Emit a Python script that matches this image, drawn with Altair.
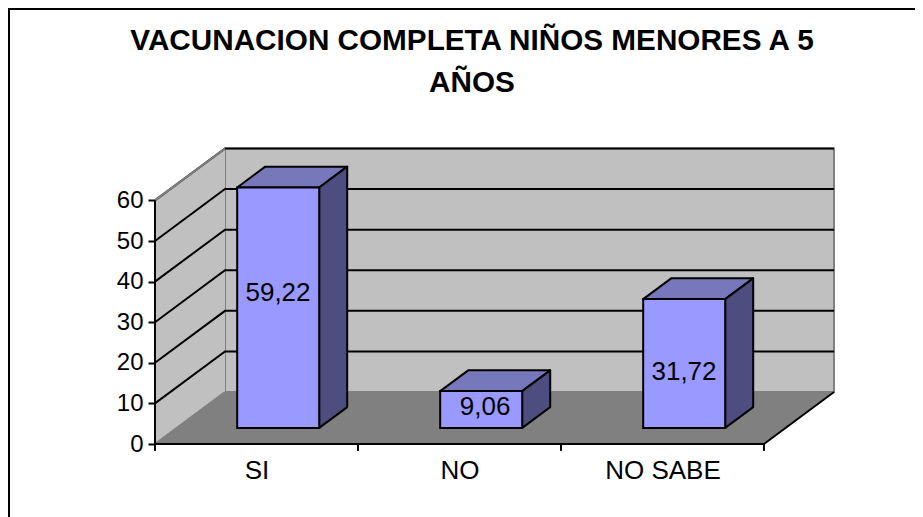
import altair as alt
import pandas as pd

CATEGORIES = ["SI", "NO", "NO SABE"]
VALUES = [59.22, 9.06, 31.72]
VALUE_LABELS = ["59,22", "9,06", "31,72"]
LABEL_X = [0.606, 1.626, 2.606]
LABEL_V = [37.2, 9.0, 17.8]
Y_TICKS = [0, 10, 20, 30, 40, 50, 60]
TITLE = ["VACUNACION COMPLETA NIÑOS MENORES A 5", "AÑOS"]

# oblique projection of the 3-D box, in scale units
DEPTH_X = 0.345
DEPTH_V = 12.8
BAR_Z0, BAR_Z1 = 0.31, 0.71
BAR_L, BAR_R = 0.298, 0.702
TOP = 60.0
N = 3

FONT = "Liberation Sans"
W, H = 907, 409
xscale = alt.Scale(domain=[-0.724, 3.744], nice=False, zero=False)
yscale = alt.Scale(domain=[-17.98, 82.76], nice=False, zero=False)

label_expr = " : ".join(f"datum.value == {i + 0.5} ? '{c}'" for i, c in enumerate(CATEGORIES)) + " : ''"
AX = alt.Axis(values=[0.5, 1.5, 2.5], labelExpr=label_expr, orient="bottom", offset=-73,
              domain=False, ticks=False, grid=False, title=None, labelAngle=0,
              labelFont=FONT, labelFontSize=26, labelColor="black", labelPadding=13)
AY = alt.Axis(values=Y_TICKS, orient="left", offset=-147, domain=False, grid=False, title=None,
              tickColor="black", tickWidth=2, tickSize=7,
              labelFont=FONT, labelFontSize=24, labelColor="black", labelPadding=5)


def X():
    return alt.X("x:Q", scale=xscale, axis=AX)


def Y():
    return alt.Y("y:Q", scale=yscale, axis=AY)


def px(c, z):
    return c + z * DEPTH_X


def py(v, z):
    return v + z * DEPTH_V


# vertical-edge faces: wall left, bar sides
def vface(c0, c1, z0, z1, v0, v1, g=0):
    return [
        {"g": g, "x": px(c0, z0), "y": py(v1, z0), "y2": py(v0, z0)},
        {"g": g, "x": px(c1, z1), "y": py(v1, z1), "y2": py(v0, z1)},
    ]


# horizontal-edge faces: floor, bar tops
def hface(c0, c1, z0, z1, v, g=0):
    return [
        {"g": g, "y": py(v, z0), "x": px(c0, z0), "x2": px(c1, z0)},
        {"g": g, "y": py(v, z1), "x": px(c0, z1), "x2": px(c1, z1)},
    ]


def vlayer(rows, **mark):
    return alt.Chart(pd.DataFrame(rows)).mark_area(orient="vertical", **mark).encode(
        x=X(), y=Y(), y2="y2:Q", detail="g:N")


def hlayer(rows, **mark):
    return alt.Chart(pd.DataFrame(rows)).mark_area(orient="horizontal", **mark).encode(
        y=Y(), x=X(), x2="x2:Q", detail="g:N")


def lines(rows, **mark):
    return alt.Chart(pd.DataFrame(rows)).mark_line(**mark).encode(
        x=X(), y=Y(), detail="g:N")


GRAY = "#C0C0C0"
DARK = "#808080"
FRONT = "#9999FF"
BAR_TOP = "#7777BB"
BAR_SIDE = "#4D4D80"

layers = []

# walls and floor
back = pd.DataFrame([{"x": px(0, 1), "x2": px(N, 1), "y": py(0, 1), "y2": py(TOP, 1)}])
layers.append(alt.Chart(back).mark_rect(fill=GRAY, stroke=DARK, strokeWidth=2).encode(
    x=X(), x2="x2:Q", y=Y(), y2="y2:Q"))
layers.append(vlayer(vface(0, 0, 0, 1, 0, TOP), fill=GRAY))
layers.append(hlayer(hface(0, N, 0, 1, 0), fill=DARK))

# grid lines
grid_rows = []
for t in Y_TICKS[1:]:
    grid_rows += [
        {"g": t, "x": px(0, 0), "y": py(t, 0)},
        {"g": t, "x": px(0, 1), "y": py(t, 1)},
        {"g": t, "x": px(N, 1), "y": py(t, 1)},
    ]
layers.append(lines(grid_rows, color="black", strokeWidth=2))

# wall edges
layers.append(lines(
    [{"g": 0, "x": px(0, 0), "y": py(TOP, 0)}, {"g": 0, "x": px(0, 1), "y": py(TOP, 1)},
     {"g": 1, "x": px(0, 0), "y": py(0, 0)}, {"g": 1, "x": px(0, 1), "y": py(0, 1)}],
    color=DARK, strokeWidth=2))
layers.append(lines(
    [{"g": 0, "x": px(N, 0), "y": py(0, 0)}, {"g": 0, "x": px(N, 1), "y": py(0, 1)}],
    color="black", strokeWidth=2))

# axis lines and category ticks
layers.append(lines(
    [{"g": 0, "x": 0, "y": 0}, {"g": 0, "x": N, "y": 0}],
    color="black", strokeWidth=2))
layers.append(alt.Chart(pd.DataFrame({"x": [0.0], "y": [0.0], "y2": [TOP]})).mark_rule(
    color="black", strokeWidth=2).encode(x=X(), y=Y(), y2="y2:Q"))
ticks = pd.DataFrame({"x": list(range(N + 1)), "y": [0.0] * (N + 1), "y2": [-1.7] * (N + 1)})
layers.append(alt.Chart(ticks).mark_rule(color="black", strokeWidth=2).encode(
    x=X(), y=Y(), y2="y2:Q"))

# bars
tops, sides, fronts = [], [], []
for i, v in enumerate(VALUES):
    tops += hface(i + BAR_L, i + BAR_R, BAR_Z0, BAR_Z1, v, g=i)
    sides += vface(i + BAR_R, i + BAR_R, BAR_Z0, BAR_Z1, 0, v, g=i)
    fronts.append({"x": px(i + BAR_L, BAR_Z0), "x2": px(i + BAR_R, BAR_Z0),
                   "y": py(0, BAR_Z0), "y2": py(v, BAR_Z0)})
layers.append(hlayer(tops, fill=BAR_TOP, stroke="black", strokeWidth=2, strokeJoin="round"))
layers.append(vlayer(sides, fill=BAR_SIDE, stroke="black", strokeWidth=2, strokeJoin="round"))
layers.append(alt.Chart(pd.DataFrame(fronts)).mark_rect(fill=FRONT, stroke="black", strokeWidth=2).encode(
    x=X(), x2="x2:Q", y=Y(), y2="y2:Q"))

# value labels
labels = pd.DataFrame({"x": LABEL_X, "y": LABEL_V, "t": VALUE_LABELS})
layers.append(alt.Chart(labels).mark_text(font=FONT, fontSize=26, color="black", align="center",
                                          baseline="middle").encode(
    x=X(), y=Y(), text="t:N"))

# title, placed inside the window above the plot
for line, ypos in zip(TITLE, [-58, -16]):
    layers.append(alt.Chart(pd.DataFrame({"t": [line]})).mark_text(
        font=FONT, fontSize=29.7, fontWeight="bold", color="black", align="center", baseline="alphabetic"
    ).encode(x=alt.value(464), y=alt.value(ypos), text="t:N"))

# chart frame (left and top only are inside the window)
layers.append(alt.Chart(pd.DataFrame({"a": [0]})).mark_rule(color="black", strokeWidth=2).encode(
    x=alt.value(1), y=alt.value(-100), y2=alt.value(H)))
layers.append(alt.Chart(pd.DataFrame({"a": [0]})).mark_rule(color="black", strokeWidth=2).encode(
    x=alt.value(0), x2=alt.value(W), y=alt.value(-99)))

chart = alt.layer(*layers).properties(
    width=W, height=H,
    padding={"left": 0, "top": 100, "right": 0, "bottom": 0},
    autosize=alt.AutoSizeParams(type="none"),
).configure(background="white").configure_view(stroke=None)

chart.save("out.html", embed_options={"renderer": "svg", "actions": False})
